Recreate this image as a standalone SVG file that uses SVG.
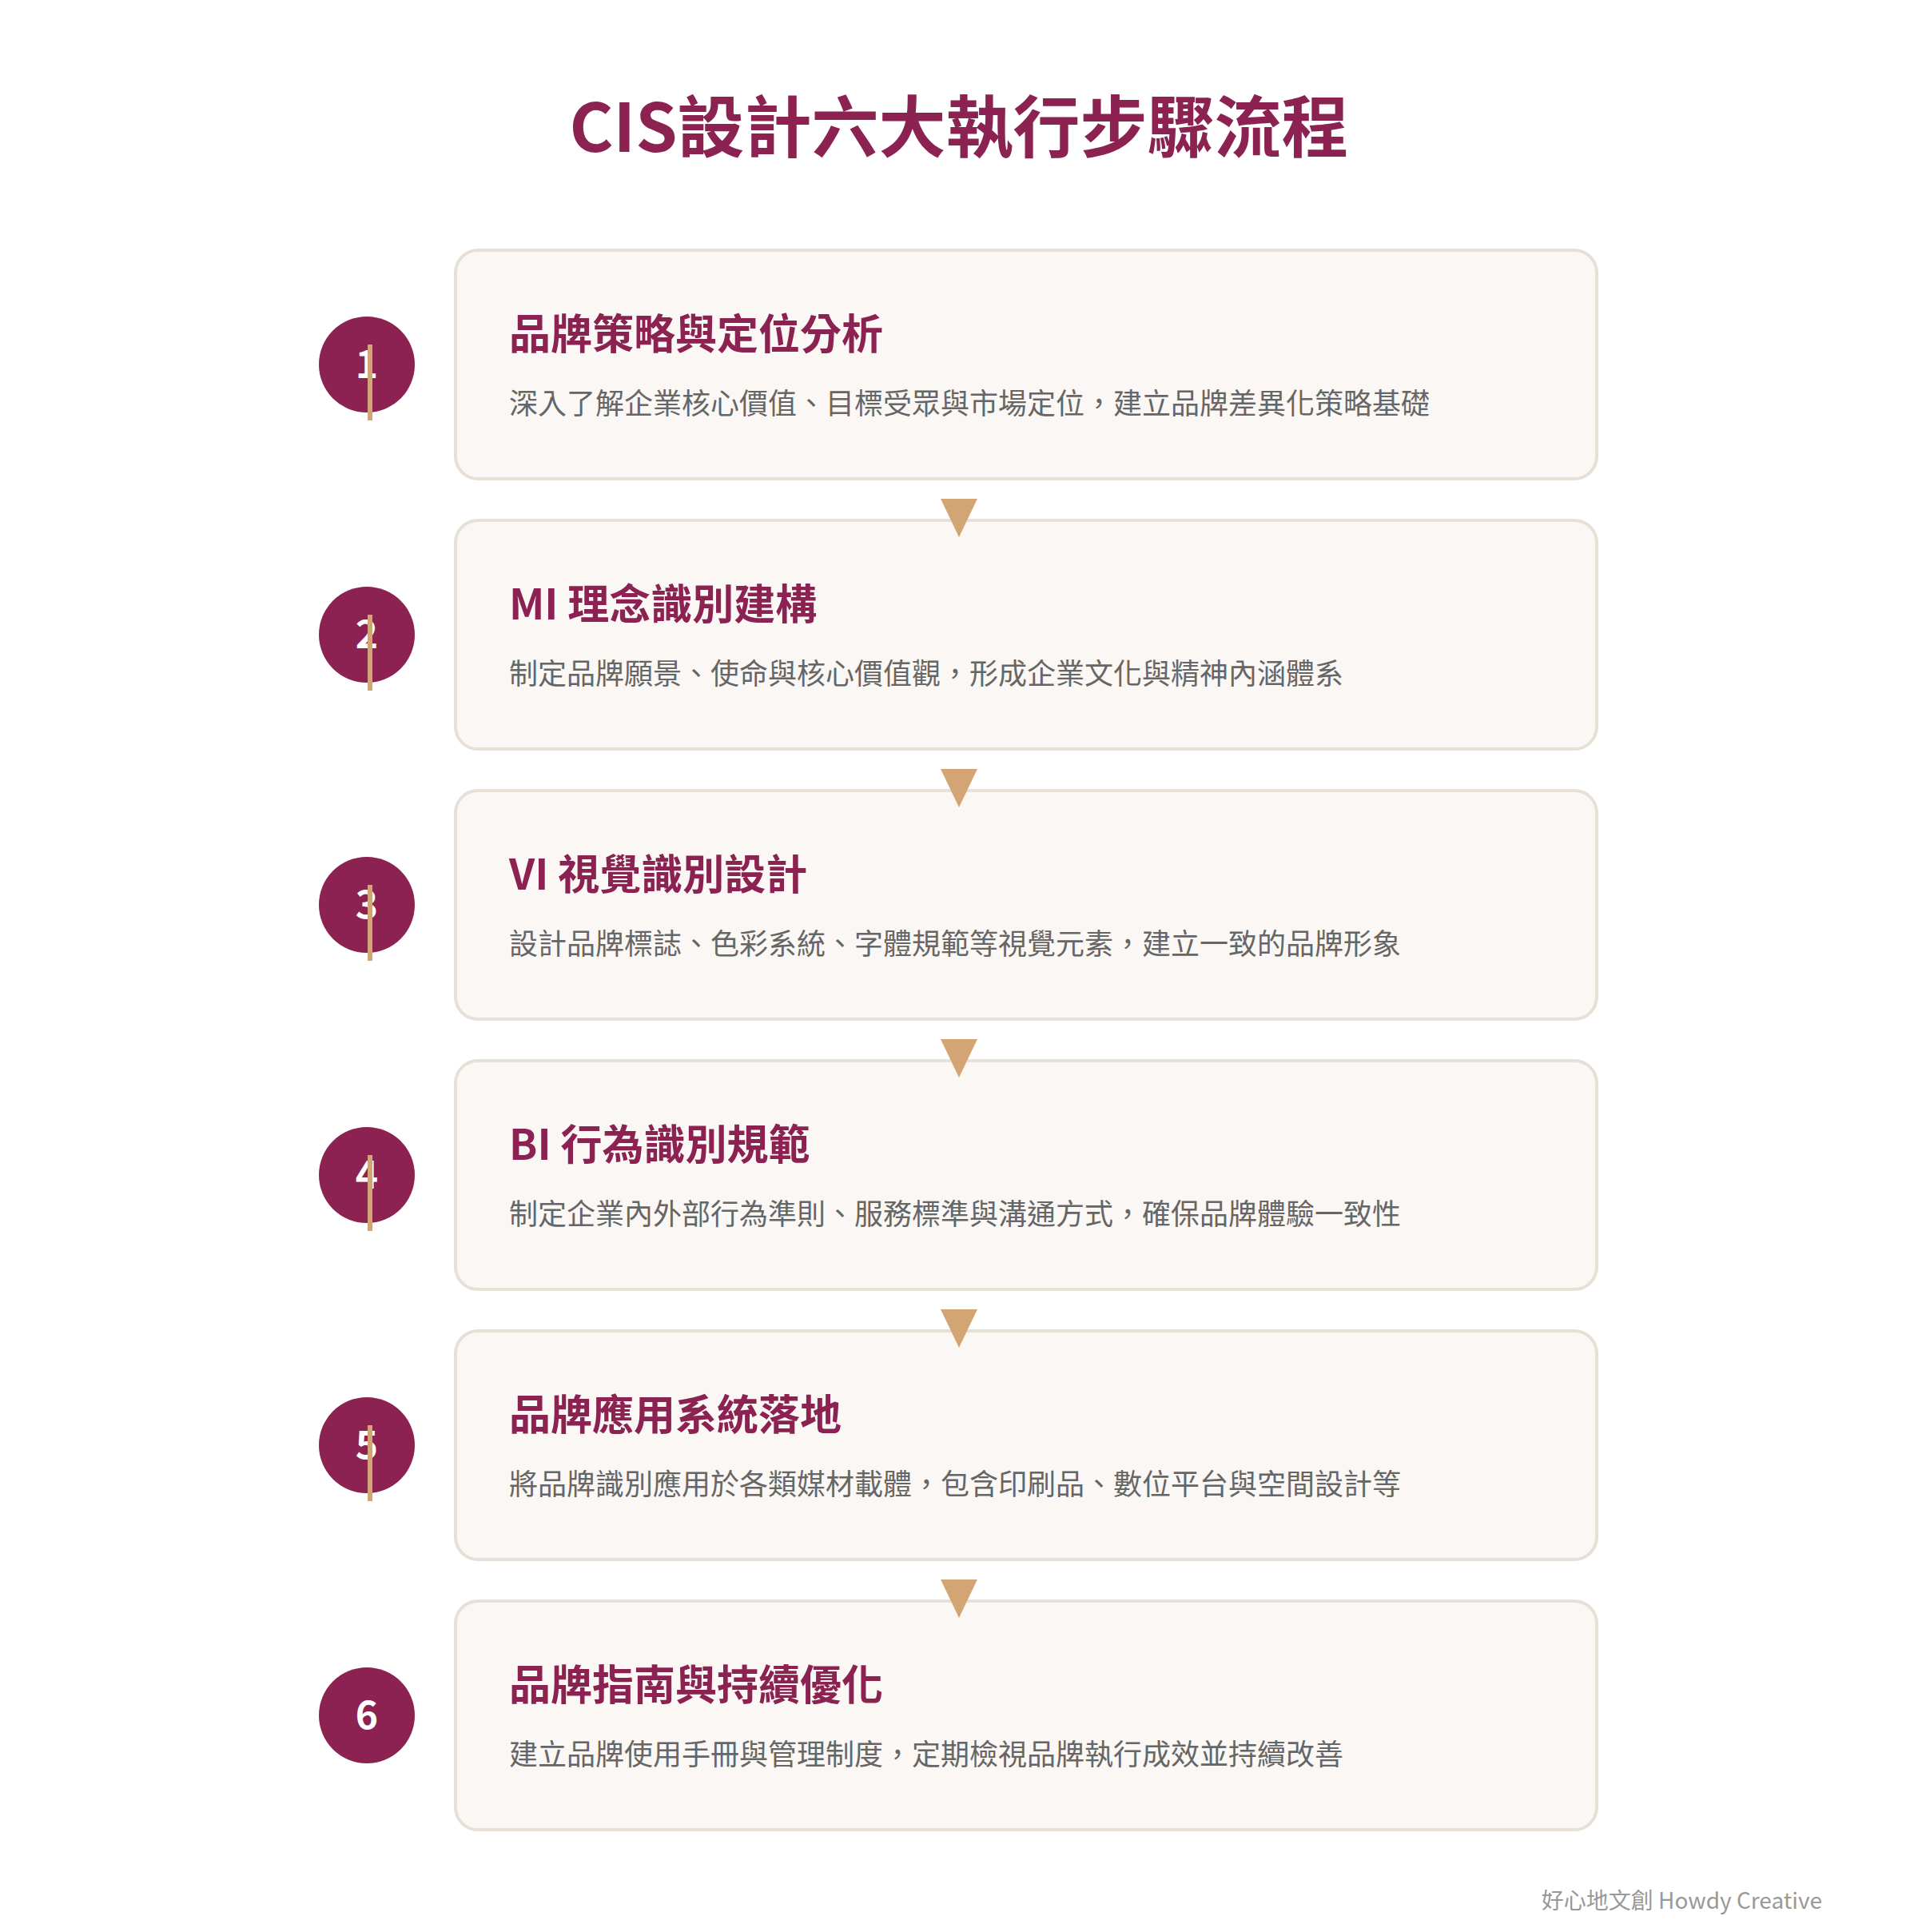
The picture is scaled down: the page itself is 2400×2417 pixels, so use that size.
<svg xmlns="http://www.w3.org/2000/svg" width="2400" height="2417" viewBox="0 0 2400 2417">
<style>
.card{fill:#FAF7F4;stroke:#E7E0D7;stroke-width:4}
.circ{fill:#8B2252}
.num{font-family:"Noto Sans CJK TC","Noto Sans",sans-serif;font-size:48px;font-weight:700;fill:#FFFFFF;text-anchor:middle}
.vline{stroke:#D4A574;stroke-width:6}
.ttl{font-family:"Noto Sans CJK TC",sans-serif;font-size:52px;font-weight:700;fill:#8B2252}
.desc{font-family:"Noto Sans CJK TC",sans-serif;font-size:36px;fill:#666666}
.arr{fill:#D4A574}
</style>
<rect width="2400" height="2417" fill="#FFFFFF"/>
<text x="1200" y="190" text-anchor="middle" font-family="'Noto Sans CJK TC',sans-serif" font-size="84" font-weight="700" fill="#8B2252">CIS設計六大執行步驟流程</text>

<g id="step1">
<rect class="card" x="570" y="313" width="1428" height="286" rx="28"/>
<circle class="circ" cx="459" cy="456" r="60"/>
<text class="num" x="459" y="473">1</text>
<line class="vline" x1="463" y1="431" x2="463" y2="526"/>
<text class="ttl" x="637" y="437">品牌策略與定位分析</text>
<text class="desc" x="637" y="518">深入了解企業核心價值、目標受眾與市場定位，建立品牌差異化策略基礎</text>
</g>
<g id="step2">
<rect class="card" x="570" y="651" width="1428" height="286" rx="28"/>
<circle class="circ" cx="459" cy="794" r="60"/>
<text class="num" x="459" y="811">2</text>
<line class="vline" x1="463" y1="769" x2="463" y2="864"/>
<text class="ttl" x="637" y="775">MI 理念識別建構</text>
<text class="desc" x="637" y="856">制定品牌願景、使命與核心價值觀，形成企業文化與精神內涵體系</text>
</g>
<g id="step3">
<rect class="card" x="570" y="989" width="1428" height="286" rx="28"/>
<circle class="circ" cx="459" cy="1132" r="60"/>
<text class="num" x="459" y="1149">3</text>
<line class="vline" x1="463" y1="1107" x2="463" y2="1202"/>
<text class="ttl" x="637" y="1113">VI 視覺識別設計</text>
<text class="desc" x="637" y="1194">設計品牌標誌、色彩系統、字體規範等視覺元素，建立一致的品牌形象</text>
</g>
<g id="step4">
<rect class="card" x="570" y="1327" width="1428" height="286" rx="28"/>
<circle class="circ" cx="459" cy="1470" r="60"/>
<text class="num" x="459" y="1487">4</text>
<line class="vline" x1="463" y1="1445" x2="463" y2="1540"/>
<text class="ttl" x="637" y="1451">BI 行為識別規範</text>
<text class="desc" x="637" y="1532">制定企業內外部行為準則、服務標準與溝通方式，確保品牌體驗一致性</text>
</g>
<g id="step5">
<rect class="card" x="570" y="1665" width="1428" height="286" rx="28"/>
<circle class="circ" cx="459" cy="1808" r="60"/>
<text class="num" x="459" y="1825">5</text>
<line class="vline" x1="463" y1="1783" x2="463" y2="1878"/>
<text class="ttl" x="637" y="1789">品牌應用系統落地</text>
<text class="desc" x="637" y="1870">將品牌識別應用於各類媒材載體，包含印刷品、數位平台與空間設計等</text>
</g>
<g id="step6">
<rect class="card" x="570" y="2003" width="1428" height="286" rx="28"/>
<circle class="circ" cx="459" cy="2146" r="60"/>
<text class="num" x="459" y="2163">6</text>
<text class="ttl" x="637" y="2127">品牌指南與持續優化</text>
<text class="desc" x="637" y="2208">建立品牌使用手冊與管理制度，定期檢視品牌執行成效並持續改善</text>
</g>

<g id="connectors">
<polygon class="arr" points="1177,624 1223,624 1200,672"/>
<polygon class="arr" points="1177,962 1223,962 1200,1010"/>
<polygon class="arr" points="1177,1300 1223,1300 1200,1348"/>
<polygon class="arr" points="1177,1638 1223,1638 1200,1686"/>
<polygon class="arr" points="1177,1976 1223,1976 1200,2024"/>
</g>

<text x="2280" y="2388" text-anchor="end" font-family="'Noto Sans CJK TC',sans-serif" font-size="28" fill="#999999">好心地文創 Howdy Creative</text>
</svg>
